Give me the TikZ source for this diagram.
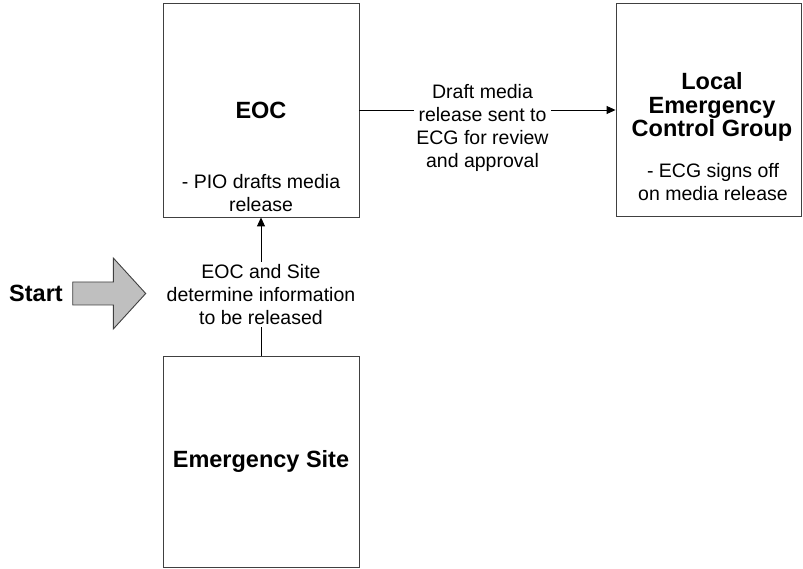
\documentclass[tikz,border=0pt]{standalone}
\usepackage{fontspec}
\setmainfont{Liberation Sans}
\usetikzlibrary{arrows.meta}

\definecolor{boxline}{RGB}{64,64,64}
\definecolor{startfill}{RGB}{191,191,191}

\tikzset{
  stagebox/.style={draw=boxline, line width=0.9pt, inner sep=0pt},
  title/.style={font=\fontsize{23.5}{23.5}\selectfont\bfseries, align=center, inner sep=0pt},
  note/.style={font=\fontsize{19.5}{23}\selectfont, align=center, inner sep=0pt},
  flowlabel/.style={font=\fontsize{19.5}{23}\selectfont, align=center, fill=white, inner sep=2pt},
  flow/.style={draw=black, line width=0.9pt, -{Triangle[length=9pt,width=8pt]}},
  startshape/.style={draw=boxline, line width=0.9pt, fill=startfill},
}

\begin{document}
\begin{tikzpicture}[x=1pt, y=-1pt]
  \useasboundingbox (0,0) rectangle (803,569);

  % stages
  \node[stagebox, minimum width=196pt, minimum height=214pt] (eoc) at (261,110) {};
  \node[stagebox, minimum width=185pt, minimum height=213pt] (ecg) at (708.5,110) {};
  \node[stagebox, minimum width=196pt, minimum height=211pt] (site) at (261,461.5) {};

  % stage texts
  \node[title] (eoctitle) at (261,110) {EOC};
  \node[note] (eocnote) at (261,193) {- PIO drafts media\\release};
  \node[title] (ecgtitle) at (712,107) {Local\\Emergency\\Control Group};
  \node[note] (ecgnote) at (713,182) {- ECG signs off\\on media release};
  \node[title] (sitetitle) at (261,461.5) {Emergency Site};

  % flows between stages
  \draw[flow] (site.north) -- (eoc.south);
  \node[flowlabel] (sitelabel) at (261,294.5) {EOC and Site\\determine information\\to be released};

  \draw[flow] (eoc.east) -- (eoc.east -| ecg.west);
  \node[flowlabel] (eoclabel) at (482.5,128) {Draft media\\release sent to\\ECG for review\\and approval};

  % entry point
  \node[title, anchor=base] (start) at (36,301.7) {Start};
  \draw[startshape] (72.7,282) -- (113.3,282) -- (113.3,258) -- (145.7,293.5)
    -- (113.3,329) -- (113.3,305) -- (72.7,305) -- cycle;
\end{tikzpicture}
\end{document}
